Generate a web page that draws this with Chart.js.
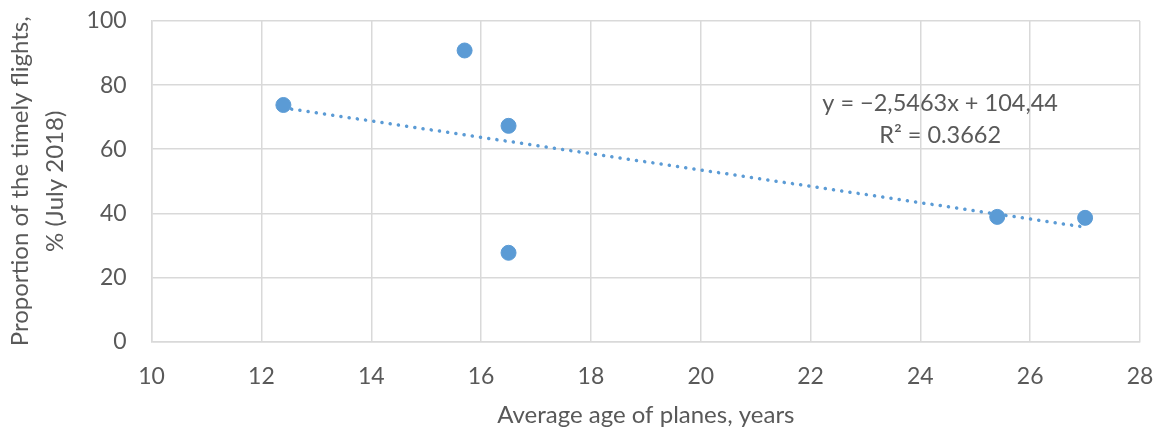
<!DOCTYPE html>
<html lang="en">
<head>
    <meta charset="UTF-8">
    <title>Average age of planes vs timely flights</title>
    <script src="https://cdn.jsdelivr.net/npm/chart.js"></script>
    <style>
        body { margin: 0; background: #ffffff; }
        #chart { display: block; }
    </style>
</head>
<body>
    <canvas id="chart" width="1159" height="427"></canvas>

    <script>
        // values
        const ages = [12.4, 15.7, 16.5, 16.5, 25.4, 27.0];
        const timely = [73.8, 90.8, 67.3, 27.7, 38.9, 38.6];

        // trendline ends (as drawn)
        const trendX = [12.4, 27.0];
        const trendY = [72.9, 35.7];
        const trendText = ['y = \u22122,5463x + 104,44', 'R\u00b2 = 0.3662'];
        const trendTextAt = { x: 24.36, y: [74.4, 64.4] };

        const textColor = '#595959';
        const gridColor = '#d9d9d9';
        const blue = '#5b9bd5';

        const labelPlugin = {
            id: 'trendLabel',
            afterDatasetsDraw(chart) {
                const ctx = chart.ctx;
                const xs = chart.scales.x, ys = chart.scales.y;
                ctx.save();
                ctx.fillStyle = textColor;
                ctx.font = '23.5px Lato, sans-serif';
                ctx.textAlign = 'center';
                ctx.textBaseline = 'middle';
                trendText.forEach((t, i) => {
                    ctx.fillText(t, xs.getPixelForValue(trendTextAt.x), ys.getPixelForValue(trendTextAt.y[i]));
                });
                ctx.restore();
            }
        };

        new Chart(document.getElementById('chart'), {
            type: 'scatter',
            data: {
                datasets: [{
                    label: 'Airlines',
                    data: ages.map((a, i) => ({ x: a, y: timely[i] })),
                    backgroundColor: blue,
                    borderColor: blue,
                    pointRadius: 7.5,
                    pointHoverRadius: 7.5,
                    order: 1
                }, {
                    label: 'Linear trend',
                    type: 'line',
                    data: trendX.map((a, i) => ({ x: a, y: trendY[i] })),
                    borderColor: blue,
                    borderWidth: 3.5,
                    borderDash: [0.1, 8.2],
                    borderCapStyle: 'round',
                    pointRadius: 0,
                    fill: false,
                    order: 2
                }]
            },
            options: {
                responsive: false,
                animation: false,
                devicePixelRatio: 1,
                layout: { padding: { top: 21, right: 19, left: 0, bottom: 0 } },
                plugins: {
                    legend: { display: false },
                    tooltip: { enabled: false }
                },
                scales: {
                    x: {
                        type: 'linear',
                        min: 10,
                        max: 28,
                        ticks: {
                            stepSize: 2,
                            color: textColor,
                            font: { family: 'Lato', size: 23 },
                            padding: 0
                        },
                        grid: { color: gridColor, lineWidth: 1.5, tickLength: 21, tickColor: 'transparent' },
                        border: { color: gridColor, width: 1.5 },
                        title: {
                            display: true,
                            text: 'Average age of planes, years',
                            color: textColor,
                            font: { family: 'Lato', size: 24 },
                            padding: { top: 11, bottom: -3 }
                        }
                    },
                    y: {
                        min: 0,
                        max: 100,
                        ticks: {
                            stepSize: 20,
                            color: textColor,
                            font: { family: 'Lato', size: 23 },
                            padding: 0
                        },
                        grid: { color: gridColor, lineWidth: 1.5, tickLength: 25, tickColor: 'transparent' },
                        border: { color: gridColor, width: 1.5 },
                        title: {
                            display: true,
                            text: ['Proportion of the timely flights,', '% (July 2018)'],
                            color: textColor,
                            font: { family: 'Lato', size: 24, lineHeight: 1.45 },
                            padding: { top: 3, bottom: 14 }
                        }
                    }
                }
            },
            plugins: [labelPlugin]
        });
    </script>
</body>
</html>
